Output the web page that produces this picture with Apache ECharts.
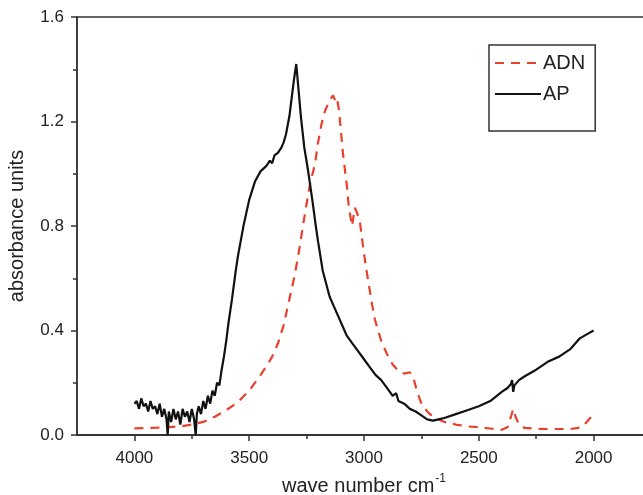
<!DOCTYPE html>
<html>
<head>
<meta charset="utf-8">
<script src="https://cdn.jsdelivr.net/npm/echarts@6/dist/echarts.min.js"></script>
<style>
  html, body { margin: 0; padding: 0; background: #fff; }
  #chart { width: 643px; height: 495px; }
</style>
</head>
<body>
<div id="chart"></div>
<script>
// AP spectrum (black solid)
var apWave = [4000, 3990, 3980, 3970, 3960, 3950, 3940, 3930, 3920, 3910, 3900, 3890, 3880, 3870, 3860, 3855, 3850,
  3840, 3830, 3820, 3810, 3800, 3790, 3780, 3770, 3760, 3750, 3740, 3733, 3728, 3720, 3710, 3700, 3690, 3680, 3670,
  3660, 3650, 3640, 3630, 3620, 3610, 3600, 3590, 3575, 3560, 3550, 3525, 3500, 3475, 3450, 3425, 3410, 3400, 3390, 3375, 3360, 3350,
  3340, 3325, 3315, 3305, 3295, 3285, 3275, 3260, 3245, 3235, 3222, 3210, 3200, 3180, 3150, 3125, 3100, 3075, 3050,
  3025, 3000, 2975, 2950, 2925, 2900, 2875, 2860, 2850, 2825, 2800, 2775, 2750, 2725, 2700, 2675, 2650, 2600, 2550,
  2500, 2450, 2400, 2375, 2360, 2355, 2350, 2345, 2325, 2300, 2250, 2200, 2150, 2100, 2060, 2030, 2000];
var apAbs = [0.12, 0.13, 0.10, 0.14, 0.11, 0.12, 0.09, 0.13, 0.10, 0.11, 0.08, 0.12, 0.07, 0.10, 0.06, 0.0, 0.09,
  0.05, 0.10, 0.06, 0.09, 0.04, 0.10, 0.07, 0.09, 0.05, 0.10, 0.06, 0.0, 0.08, 0.11, 0.08, 0.13, 0.10, 0.15, 0.12,
  0.17, 0.15, 0.20, 0.19, 0.25, 0.30, 0.36, 0.43, 0.52, 0.62, 0.68, 0.80, 0.90, 0.97, 1.01, 1.03, 1.05, 1.04, 1.07, 1.08, 1.10, 1.12,
  1.15, 1.22, 1.29, 1.36, 1.42, 1.32, 1.22, 1.10, 1.02, 0.96, 0.88, 0.80, 0.74, 0.63, 0.53, 0.48, 0.43, 0.38, 0.35,
  0.32, 0.29, 0.26, 0.23, 0.21, 0.18, 0.15, 0.16, 0.13, 0.12, 0.10, 0.09, 0.075, 0.06, 0.055, 0.06, 0.065, 0.08, 0.095,
  0.11, 0.13, 0.165, 0.18, 0.195, 0.21, 0.165, 0.19, 0.21, 0.225, 0.25, 0.28, 0.30, 0.33, 0.37, 0.385, 0.40];

// ADN spectrum (red dashed)
var adnWave = [4000, 3950, 3900, 3850, 3800, 3750, 3700, 3650, 3600, 3550, 3500, 3450, 3420, 3400, 3375, 3350, 3325,
  3300, 3280, 3266, 3249, 3235, 3213, 3200, 3185, 3170, 3150, 3135, 3125, 3118, 3110, 3100, 3092, 3074, 3066, 3052,
  3040, 3030, 3017, 3004, 2991, 2978, 2965, 2952, 2925, 2900, 2875, 2850, 2825, 2800, 2785, 2770, 2750, 2725, 2700,
  2650, 2600, 2550, 2500, 2450, 2400, 2375, 2360, 2350, 2340, 2325, 2300, 2250, 2200, 2150, 2100, 2050, 2030, 2015, 2000];
var adnAbs = [0.025, 0.027, 0.028, 0.03, 0.033, 0.04, 0.05, 0.07, 0.095, 0.125, 0.17, 0.23, 0.27, 0.30, 0.35, 0.42, 0.52,
  0.62, 0.72, 0.80, 0.89, 0.96, 1.04, 1.12, 1.19, 1.24, 1.28, 1.30, 1.28, 1.29, 1.25, 1.16, 1.08, 0.95, 0.87, 0.80,
  0.87, 0.85, 0.81, 0.72, 0.64, 0.57, 0.50, 0.44, 0.36, 0.31, 0.27, 0.245, 0.235, 0.24, 0.22, 0.17, 0.12, 0.09, 0.07,
  0.05, 0.04, 0.033, 0.03, 0.025, 0.02, 0.03, 0.07, 0.10, 0.07, 0.04, 0.027, 0.024, 0.023, 0.023, 0.023, 0.03, 0.05, 0.065, 0.08];

var xMajor = [4000, 3500, 3000, 2500, 2000];
var xMinor = [3750, 3250, 2750, 2250];

function pairs(xs, ys) {
  return xs.map(function (x, i) { return [x, ys[i]] })
}

var font = 'Liberation Sans, Arial, sans-serif'
var myChart = echarts.init(document.getElementById('chart'))
var baseX = {
  type: 'value',
  gridIndex: 0,
  position: 'bottom',
  inverse: true,
  min: 1750,
  max: 4250,
  splitLine: { show: false },
  axisLine: { lineStyle: { color: '#333', width: 1.5 } }
}
var option = {
  animation: false,
  backgroundColor: '#fff',
  grid: {
    left: 77, top: 17, width: 574, height: 418,
    outerBoundsMode: 'none',
    show: true, borderColor: '#333', borderWidth: 1.5, backgroundColor: 'transparent'
  },
  legend: {
    orient: 'vertical',
    left: 489, top: 45,
    padding: [8, 10, 27, 5],
    borderColor: '#333', borderWidth: 1.5, borderRadius: 0,
    itemWidth: 46, itemHeight: 14, itemGap: 11,
    itemStyle: { opacity: 0 },
    textStyle: { fontFamily: font, fontSize: 20, color: '#222', padding: [0, 0, 0, -3] },
    data: ['ADN', 'AP']
  },
  xAxis: [
    Object.assign({}, baseX, {
      name: '{a|wave number cm}{b|-1}',
      nameLocation: 'middle',
      nameGap: 38,
      nameTextStyle: {
        rich: {
          a: { fontFamily: font, fontSize: 20, color: '#222' },
          b: { fontFamily: font, fontSize: 12, color: '#222', verticalAlign: 'top', padding: [0, 0, 14, 1] }
        }
      },
      axisTick: { show: true, length: 6, customValues: xMajor, lineStyle: { color: '#333', width: 1.5 } },
      axisLabel: {
        customValues: xMajor, margin: 15, fontFamily: font, fontSize: 17, color: '#222',
        formatter: function (v) { return String(v) }
      }
    }),
    Object.assign({}, baseX, {
      axisTick: { show: true, length: 4, customValues: xMinor, lineStyle: { color: '#333', width: 1.5 } },
      axisLabel: { show: false }
    })
  ],
  yAxis: {
    type: 'value',
    min: 0, max: 1.6, interval: 0.4,
    name: 'absorbance units',
    nameLocation: 'middle',
    nameGap: 50,
    nameTextStyle: { fontFamily: font, fontSize: 20, color: '#222' },
    splitLine: { show: false },
    axisLine: { lineStyle: { color: '#333', width: 1.5 } },
    axisTick: { length: 6, lineStyle: { color: '#333', width: 1.5 } },
    minorTick: { show: true, splitNumber: 2, length: 4, lineStyle: { color: '#333', width: 1.5 } },
    axisLabel: {
      margin: 13, fontFamily: font, fontSize: 17, color: '#222',
      formatter: function (v) { return v.toFixed(1) }
    }
  },
  series: [
    {
      name: 'ADN', type: 'line', xAxisIndex: 0,
      symbol: 'none', smooth: false,
      lineStyle: { color: '#e8402c', width: 2.2, type: [9, 7] },
      itemStyle: { color: '#e8402c' },
      data: pairs(adnWave, adnAbs)
    },
    {
      name: 'AP', type: 'line', xAxisIndex: 0,
      symbol: 'none',
      lineStyle: { color: '#111', width: 2.2 },
      itemStyle: { color: '#111' },
      data: pairs(apWave, apAbs)
    }
  ]
}
myChart.setOption(option)
</script>
</body>
</html>
